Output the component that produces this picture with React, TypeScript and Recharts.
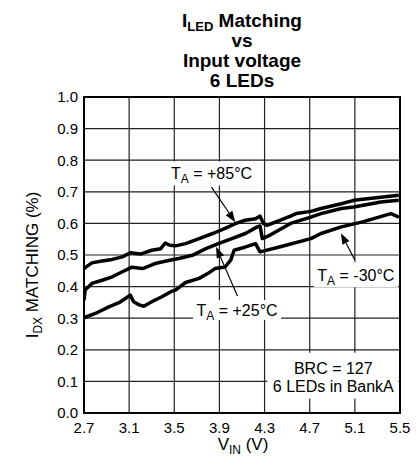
import {
    LineChart,
    Line,
    XAxis,
    YAxis,
    CartesianGrid,
    ReferenceLine,
    ReferenceDot,
    ReferenceArea,
    Customized
} from 'recharts';

const FONT = '"Liberation Sans", Arial, Helvetica, sans-serif';

// axis ticks
const X_TICKS = [2.7, 3.1, 3.5, 3.9, 4.3, 4.7, 5.1, 5.5];
const Y_TICKS = [0, 0.1, 0.2, 0.3, 0.4, 0.5, 0.6, 0.7, 0.8, 0.9, 1.0];

// TA = +85°C
const V_85 = [2.70, 2.71, 2.77, 2.86, 2.95, 3.04, 3.11, 3.20, 3.30, 3.38, 3.42, 3.46, 3.51, 3.60, 3.72, 3.84, 3.95, 4.04, 4.13, 4.22, 4.26, 4.29, 4.32, 4.44, 4.53, 4.58, 4.71, 4.80, 4.98, 5.09, 5.33, 5.49];
const M_85 = [0.455, 0.460, 0.475, 0.481, 0.486, 0.494, 0.507, 0.503, 0.515, 0.520, 0.538, 0.531, 0.529, 0.536, 0.552, 0.568, 0.584, 0.599, 0.610, 0.615, 0.623, 0.600, 0.594, 0.610, 0.623, 0.631, 0.638, 0.647, 0.662, 0.673, 0.683, 0.689];

// TA = +25°C
const V_25 = [2.70, 2.71, 2.77, 2.86, 2.95, 3.04, 3.12, 3.22, 3.33, 3.47, 3.54, 3.66, 3.78, 3.89, 4.01, 4.13, 4.235, 4.26, 4.28, 4.35, 4.53, 4.71, 4.80, 4.98, 5.09, 5.33, 5.49];
const M_25 = [0.357, 0.389, 0.410, 0.420, 0.431, 0.447, 0.461, 0.457, 0.473, 0.484, 0.489, 0.499, 0.520, 0.536, 0.552, 0.568, 0.589, 0.592, 0.552, 0.563, 0.600, 0.620, 0.631, 0.647, 0.652, 0.668, 0.673];

// TA = -30°C
const V_M30 = [2.70, 2.71, 2.80, 2.92, 3.01, 3.07, 3.11, 3.14, 3.19, 3.23, 3.30, 3.39, 3.47, 3.51, 3.60, 3.72, 3.80, 3.86, 3.95, 4.00, 4.03, 4.10, 4.22, 4.26, 4.44, 4.71, 4.80, 4.98, 5.16, 5.42, 5.49];
const M_M30 = [0.300, 0.303, 0.315, 0.336, 0.349, 0.363, 0.373, 0.352, 0.342, 0.338, 0.352, 0.368, 0.384, 0.389, 0.413, 0.426, 0.442, 0.457, 0.462, 0.484, 0.515, 0.522, 0.536, 0.510, 0.526, 0.552, 0.568, 0.589, 0.604, 0.631, 0.620];

const zip = (v: number[], m: number[]) => v.map((x, i) => ({ v: x, m: m[i] }));

const data85 = zip(V_85, M_85);
const data25 = zip(V_25, M_25);
const dataM30 = zip(V_M30, M_M30);

// annotation anchors (data coords)
const TEMP_LABELS = [
    { v: 3.83, m: 0.758, sign: '+85', w: 96, h: 24 },
    { v: 4.056, m: 0.326, sign: '+25', w: 88, h: 20 },
    { v: 5.109, m: 0.438, sign: '-30', w: 84, h: 25 }
];
const ARROWS = [
    { from: { x: 3.83, y: 0.715 }, to: { x: 4.04, y: 0.604 } },
    { from: { x: 4.06, y: 0.37 }, to: { x: 3.87, y: 0.526 } },
    { from: { x: 5.10, y: 0.484 }, to: { x: 4.976, y: 0.569 } }
];

const TempLabel = ({ cx, cy, sign, w, h }: any) => (
    <g>
        <rect x={cx - w / 2} y={cy - h / 2} width={w} height={h} fill="#fff" />
        <text x={cx} y={cy + 6} textAnchor="middle" fontSize={16} fontFamily={FONT} fill="#000">
            <tspan>T</tspan>
            <tspan fontSize={12} dy={4}>A</tspan>
            <tspan dy={-4}>{` = ${sign}°C`}</tspan>
        </text>
    </g>
);

const BrcLabel = ({ cx, cy }: any) => (
    <g>
        <rect x={cx - 66} y={cy - 23} width={131} height={46} fill="#fff" />
        <text x={cx} y={cy - 2} textAnchor="middle" fontSize={16} fontFamily={FONT} fill="#000">BRC = 127</text>
        <text x={cx} y={cy + 16} textAnchor="middle" fontSize={16} fontFamily={FONT} fill="#000">6 LEDs in BankA</text>
    </g>
);

const Arrow = ({ x1, y1, x2, y2 }: any) => {
    const a = Math.atan2(y2 - y1, x2 - x1);
    const L = 11;
    const W = 4;
    const bx = x2 - L * Math.cos(a);
    const by = y2 - L * Math.sin(a);
    const pts = `${x2},${y2} ${bx + W * Math.sin(a)},${by - W * Math.cos(a)} ${bx - W * Math.sin(a)},${by + W * Math.cos(a)}`;
    return (
        <g>
            <line x1={x1} y1={y1} x2={bx} y2={by} stroke="#000" strokeWidth={1.2} />
            <polygon points={pts} fill="#000" />
        </g>
    );
};

const Titles = () => (
    <g fontFamily={FONT} fill="#000">
        <text x={242} y={27} textAnchor="middle" fontSize={19} fontWeight="bold">
            <tspan>I</tspan>
            <tspan fontSize={13} dy={4}>LED</tspan>
            <tspan dy={-4}> Matching</tspan>
        </text>
        <text x={242} y={47} textAnchor="middle" fontSize={19} fontWeight="bold">vs</text>
        <text x={242} y={67} textAnchor="middle" fontSize={19} fontWeight="bold">Input voltage</text>
        <text x={242} y={87} textAnchor="middle" fontSize={19} fontWeight="bold">6 LEDs</text>
        <text transform="translate(38,265) rotate(-90)" textAnchor="middle" fontSize={17}>
            <tspan>I</tspan>
            <tspan fontSize={12} dy={4}>DX</tspan>
            <tspan dy={-4}> MATCHING (%)</tspan>
        </text>
        <text x={243} y={450} textAnchor="middle" fontSize={17}>
            <tspan>V</tspan>
            <tspan fontSize={12} dy={4}>IN</tspan>
            <tspan dy={-4}> (V)</tspan>
        </text>
    </g>
);

export default function App() {
    return (
        <div style={{ position: 'absolute', left: 0, top: 0, background: '#fff' }}>
            <LineChart
                width={420}
                height={466}
                margin={{ top: 97, right: 20, bottom: 0, left: 0 }}
            >
                <CartesianGrid stroke="#222" strokeWidth={1.2} />
                <XAxis
                    type="number"
                    dataKey="v"
                    domain={[2.7, 5.5]}
                    ticks={X_TICKS}
                    tickFormatter={(v: number) => v.toFixed(1)}
                    tick={{ fontSize: 15, fill: '#000', fontFamily: FONT }}
                    tickLine={false}
                    tickMargin={3}
                    axisLine={{ stroke: '#000', strokeWidth: 2 }}
                    height={53}
                    allowDataOverflow
                />
                <YAxis
                    type="number"
                    domain={[0, 1]}
                    ticks={Y_TICKS}
                    tickFormatter={(v: number) => v.toFixed(1)}
                    tick={{ fontSize: 15, fill: '#000', fontFamily: FONT }}
                    tickLine={false}
                    tickSize={4}
                    tickMargin={2}
                    axisLine={{ stroke: '#000', strokeWidth: 2 }}
                    width={84}
                />
                <ReferenceArea x1={2.7} x2={5.5} y1={0} y2={1} fill="none" stroke="#000" strokeWidth={2} />

                <Line data={dataM30} dataKey="m" stroke="#000" strokeWidth={3.5} dot={false} type="linear" isAnimationActive={false} strokeLinejoin="round" />
                <Line data={data25} dataKey="m" stroke="#000" strokeWidth={3.5} dot={false} type="linear" isAnimationActive={false} strokeLinejoin="round" />
                <Line data={data85} dataKey="m" stroke="#000" strokeWidth={3.5} dot={false} type="linear" isAnimationActive={false} strokeLinejoin="round" />

                {TEMP_LABELS.map((l) => (
                    <ReferenceDot
                        key={l.sign}
                        x={l.v}
                        y={l.m}
                        shape={(p: any) => <TempLabel {...p} sign={l.sign} w={l.w} h={l.h} />}
                    />
                ))}
                <ReferenceDot x={4.909} y={0.118} shape={(p: any) => <BrcLabel {...p} />} />

                {ARROWS.map((a, i) => (
                    <ReferenceLine key={i} segment={[a.from, a.to]} shape={(p: any) => <Arrow {...p} />} />
                ))}

                <Customized component={Titles} />
            </LineChart>
        </div>
    );
}
